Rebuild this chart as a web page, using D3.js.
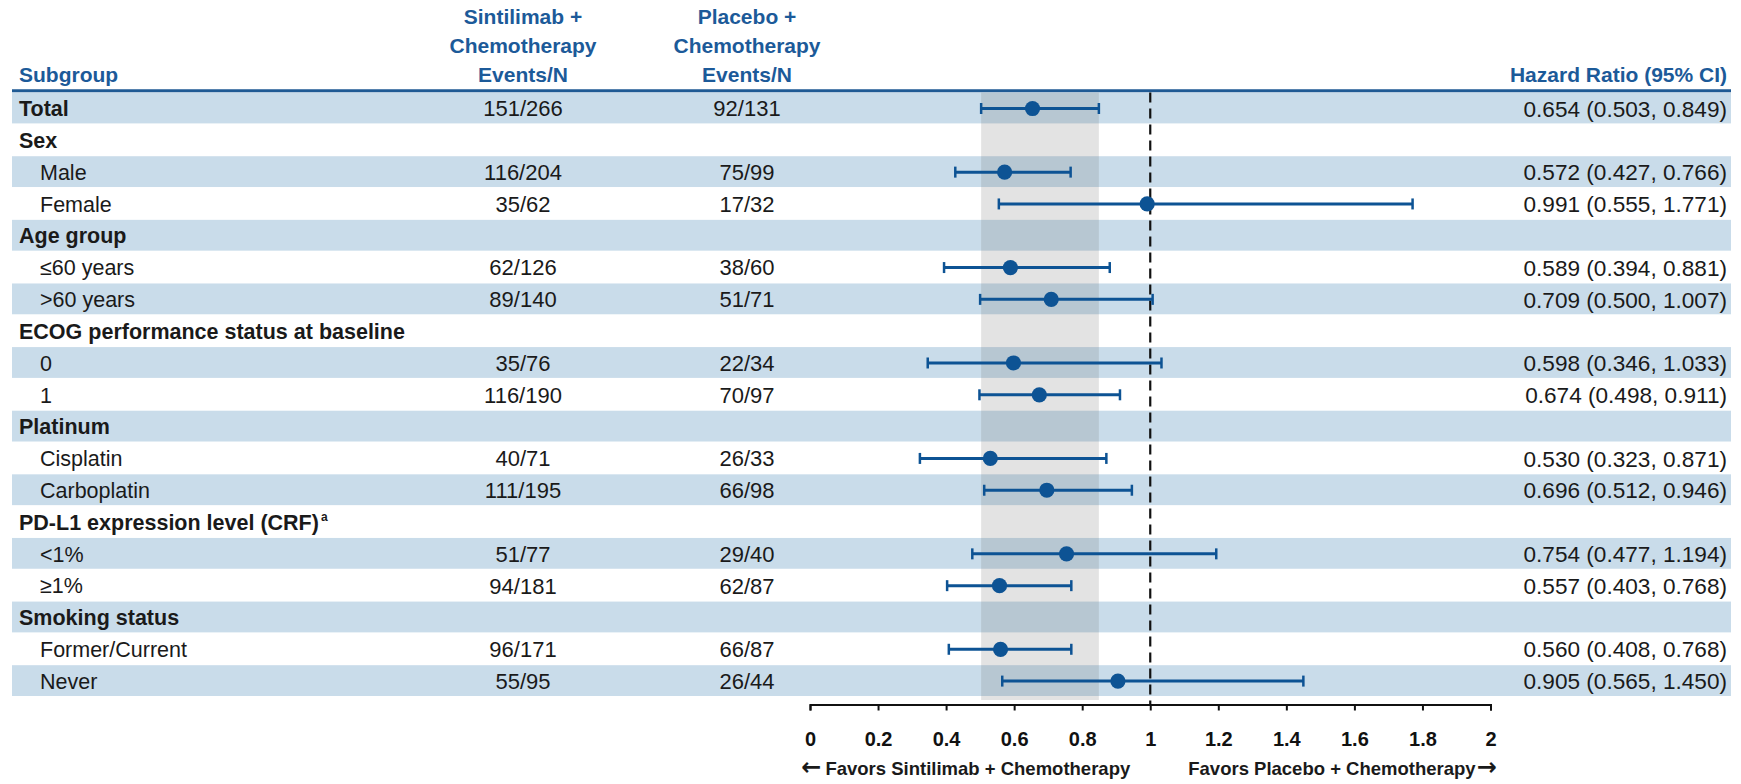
<!DOCTYPE html>
<html>
<head>
<meta charset="utf-8">
<script src="https://cdn.jsdelivr.net/npm/d3@7"></script>
<style>
  html, body { margin: 0; padding: 0; background: #fff; }
  svg { display: block; font-family: "Liberation Sans", Arial, sans-serif; }
</style>
</head>
<body>
<svg id="chart" width="1741" height="784"></svg>
<script>
// Subgroup rows, top to bottom
const rowLabels = [
  "Total", "Sex", "Male", "Female", "Age group", "\u226460 years", ">60 years",
  "ECOG performance status at baseline", "0", "1", "Platinum", "Cisplatin", "Carboplatin",
  "PD-L1 expression level (CRF)", "<1%", "\u22651%", "Smoking status", "Former/Current", "Never"
];
// true = bold section heading, false = indented subgroup
const rowIsHeading = [
  true, true, false, false, true, false, false,
  true, false, false, true, false, false,
  true, false, false, true, false, false
];
// rows whose heading carries a footnote marker
const rowFootnote = [
  "", "", "", "", "", "", "", "", "", "", "", "", "", "a", "", "", "", "", ""
];
// Events/N per arm
const eventsSintilimab = [
  "151/266", null, "116/204", "35/62", null, "62/126", "89/140",
  null, "35/76", "116/190", null, "40/71", "111/195",
  null, "51/77", "94/181", null, "96/171", "55/95"
];
const eventsPlacebo = [
  "92/131", null, "75/99", "17/32", null, "38/60", "51/71",
  null, "22/34", "70/97", null, "26/33", "66/98",
  null, "29/40", "62/87", null, "66/87", "26/44"
];
// Hazard ratio with 95% confidence limits
const hrEstimate = [
  0.654, null, 0.572, 0.991, null, 0.589, 0.709,
  null, 0.598, 0.674, null, 0.530, 0.696,
  null, 0.754, 0.557, null, 0.560, 0.905
];
const hrLower = [
  0.503, null, 0.427, 0.555, null, 0.394, 0.500,
  null, 0.346, 0.498, null, 0.323, 0.512,
  null, 0.477, 0.403, null, 0.408, 0.565
];
const hrUpper = [
  0.849, null, 0.766, 1.771, null, 0.881, 1.007,
  null, 1.033, 0.911, null, 0.871, 0.946,
  null, 1.194, 0.768, null, 0.768, 1.450
];
const xTicks = [0, 0.2, 0.4, 0.6, 0.8, 1, 1.2, 1.4, 1.6, 1.8, 2];
const headSintilimab = ["Sintilimab +", "Chemotherapy", "Events/N"];
const headPlacebo = ["Placebo +", "Chemotherapy", "Events/N"];
const favorsLeft = "Favors Sintilimab + Chemotherapy";
const favorsRight = "Favors Placebo + Chemotherapy";

const BLUE_TEXT = "#1c5a99";
const BAND = "#c9dcea";
const MARK = "#0d5394";
const INK = "#1a1a1a";

const svg = d3.select("#chart");
const n = rowLabels.length;

const tableLeft = 12, tableRight = 1731;
const colSinti = 523, colPlacebo = 747, colHR = 1727;

const y = d3.scaleBand().domain(d3.range(n)).range([92.6, 697]);
const x = d3.scaleLinear().domain([0, 2]).range([810, 1490.5]);
const axisY = 704.5;

// alternating row bands
svg.append("g").selectAll("rect")
  .data(d3.range(n).filter(i => i % 2 === 0))
  .join("rect")
  .attr("x", tableLeft)
  .attr("y", i => y(i))
  .attr("width", tableRight - tableLeft)
  .attr("height", y.bandwidth() - 1)
  .attr("fill", BAND);

// header rule
svg.append("line")
  .attr("x1", tableLeft).attr("x2", tableRight)
  .attr("y1", 90.8).attr("y2", 90.8)
  .attr("stroke", "#1f5a94").attr("stroke-width", 3);

// column headings
const head = svg.append("g").attr("fill", BLUE_TEXT).attr("font-weight", "bold").attr("font-size", 21);
head.append("text").attr("x", 19).attr("y", 82).text("Subgroup");
head.append("text").attr("x", colHR).attr("y", 82).attr("text-anchor", "end").text("Hazard Ratio (95% CI)");
headSintilimab.forEach((t, k) => head.append("text")
  .attr("x", colSinti).attr("y", 24 + 29 * k).attr("text-anchor", "middle").text(t));
headPlacebo.forEach((t, k) => head.append("text")
  .attr("x", colPlacebo).attr("y", 24 + 29 * k).attr("text-anchor", "middle").text(t));

// shaded interval of the overall estimate
svg.append("rect")
  .attr("x", x(hrLower[0]))
  .attr("y", y(0))
  .attr("width", x(hrUpper[0]) - x(hrLower[0]))
  .attr("height", 700 - y(0))
  .attr("fill", "#737373")
  .attr("fill-opacity", 0.2);

// reference line at HR = 1
svg.append("line")
  .attr("x1", x(1)).attr("x2", x(1))
  .attr("y1", y(0)).attr("y2", axisY)
  .attr("stroke", "#111").attr("stroke-width", 2.2)
  .attr("stroke-dasharray", "10,6");

// table text
const rows = svg.append("g").attr("fill", INK);
d3.range(n).forEach(i => {
  const cy = y(i) + y.bandwidth() / 2;
  const lab = rows.append("text")
    .attr("x", rowIsHeading[i] ? 19 : 40)
    .attr("y", cy).attr("dy", "0.36em")
    .attr("font-size", 21.5)
    .attr("font-weight", rowIsHeading[i] ? "bold" : "normal")
    .text(rowLabels[i]);
  if (rowFootnote[i]) {
    lab.append("tspan").attr("font-size", 12).attr("dy", "-0.75em").attr("dx", 2).text(rowFootnote[i]);
  }
  if (eventsSintilimab[i]) {
    rows.append("text").attr("x", colSinti).attr("y", cy).attr("dy", "0.36em")
      .attr("font-size", 22).attr("text-anchor", "middle").text(eventsSintilimab[i]);
    rows.append("text").attr("x", colPlacebo).attr("y", cy).attr("dy", "0.36em")
      .attr("font-size", 22).attr("text-anchor", "middle").text(eventsPlacebo[i]);
  }
  if (hrEstimate[i] != null) {
    rows.append("text").attr("x", colHR).attr("y", cy).attr("dy", "0.36em")
      .attr("font-size", 22.6).attr("text-anchor", "end")
      .text(`${hrEstimate[i].toFixed(3)} (${hrLower[i].toFixed(3)}, ${hrUpper[i].toFixed(3)})`);
  }
});

// confidence intervals and point estimates
const est = d3.range(n).filter(i => hrEstimate[i] != null);
const marks = svg.append("g").attr("stroke", MARK).attr("fill", MARK);
marks.selectAll("line.ci").data(est).join("line").attr("class", "ci")
  .attr("x1", i => x(hrLower[i])).attr("x2", i => x(hrUpper[i]))
  .attr("y1", i => y(i) + y.bandwidth() / 2).attr("y2", i => y(i) + y.bandwidth() / 2)
  .attr("stroke-width", 3);
["lo", "hi"].forEach(side => {
  marks.selectAll("line.cap-" + side).data(est).join("line").attr("class", "cap-" + side)
    .attr("x1", i => x(side === "lo" ? hrLower[i] : hrUpper[i]))
    .attr("x2", i => x(side === "lo" ? hrLower[i] : hrUpper[i]))
    .attr("y1", i => y(i) + y.bandwidth() / 2 - 5.5)
    .attr("y2", i => y(i) + y.bandwidth() / 2 + 5.5)
    .attr("stroke-width", 2.5);
});
marks.selectAll("circle").data(est).join("circle")
  .attr("cx", i => x(hrEstimate[i]))
  .attr("cy", i => y(i) + y.bandwidth() / 2)
  .attr("r", 7.6).attr("stroke", "none");

// x axis
const axis = svg.append("g").attr("transform", `translate(0,${axisY})`)
  .call(d3.axisBottom(x).tickValues(xTicks).tickFormat(d3.format("~g")).tickSize(6).tickSizeOuter(6).tickPadding(21));
axis.select(".domain").attr("stroke", "#111").attr("stroke-width", 2);
axis.selectAll(".tick line").attr("stroke", "#111").attr("stroke-width", 2);
axis.selectAll(".tick text").attr("fill", "#111").attr("font-size", 20).attr("font-weight", "bold")
  .attr("font-family", "'Liberation Sans', Arial, sans-serif");

// direction captions with arrows
const cap = svg.append("g").attr("fill", INK).attr("font-size", 18.5).attr("font-weight", "bold");
const leftCap = cap.append("text").attr("x", x(1) - 20).attr("y", 775).attr("text-anchor", "end");
leftCap.append("tspan").attr("font-family", "'DejaVu Sans', sans-serif").attr("font-size", 24).text("\u2190");
leftCap.append("tspan").attr("dx", 4).text(favorsLeft);
const rightCap = cap.append("text").attr("x", x(1) + 38).attr("y", 775).attr("text-anchor", "start");
rightCap.append("tspan").text(favorsRight);
rightCap.append("tspan").attr("dx", 1).attr("font-family", "'DejaVu Sans', sans-serif").attr("font-size", 24).text("\u2192");
</script>
</body>
</html>
